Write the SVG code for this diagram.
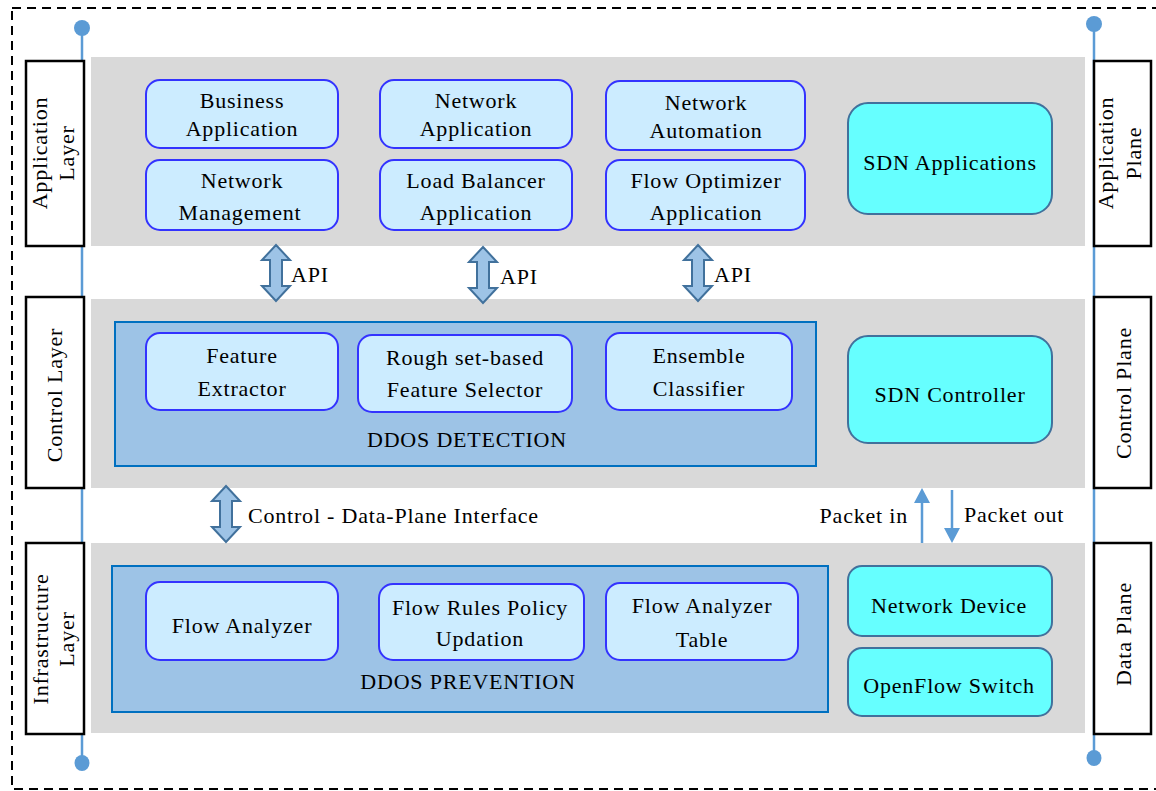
<svg xmlns="http://www.w3.org/2000/svg" width="1156" height="791" viewBox="0 0 1156 791">
<style>
svg text, svg tspan{font-family:"Liberation Serif",serif !important}
.t{font-family:"Liberation Serif",serif;font-size:22px;letter-spacing:0.8px;fill:#000;text-anchor:middle}
.band{fill:#D9D9D9}
.lbl{fill:#fff;stroke:#000;stroke-width:2.5}
.n{fill:#CCECFF;stroke:#3333FF;stroke-width:2}
.cy{fill:#66FFFF;stroke:#41719C;stroke-width:2}
.grp{fill:#9DC3E6;stroke:#0070C0;stroke-width:2}
.dbl{fill:#9DC3E6;stroke:#41719C;stroke-width:2;stroke-linejoin:miter}
.vl{stroke:#5B9BD5;stroke-width:2.5;fill:none}
.dot{fill:#5B9BD5}
.pk{stroke:#5B9BD5;stroke-width:2.5;fill:none}
.ph{fill:#5B9BD5}
.l{text-anchor:start}
.r{text-anchor:end}
</style>
<defs>
<path id="dbl" d="M0,0 L14,15 L6,15 L6,41 L14,41 L0,56 L-14,41 L-6,41 L-6,15 L-14,15 Z"/>
</defs>
<rect x="12" y="8" width="1160" height="781" fill="none" stroke="#000" stroke-width="2" stroke-dasharray="9,6"/>
<g id="axes">
<line class="vl" x1="82" y1="28" x2="82" y2="763"/>
<circle class="dot" cx="82" cy="28" r="8"/>
<ellipse class="dot" cx="82" cy="763" rx="7.5" ry="8"/>
<line class="vl" x1="1094" y1="24" x2="1094" y2="758"/>
<circle class="dot" cx="1094" cy="24" r="8"/>
<ellipse class="dot" cx="1094" cy="758" rx="7.5" ry="8"/>
</g>
<g id="bands">
<rect class="band" x="91" y="57" width="994" height="189"/>
<rect class="band" x="91" y="299" width="994" height="189"/>
<rect class="band" x="91" y="543" width="994" height="190"/>
</g>
<g id="layer-labels">
<g id="lbl-app-layer"><rect class="lbl" x="26" y="61" width="58" height="185"/><text class="t" font-family="Liberation Serif" transform="translate(55,153) rotate(-90)"><tspan x="0" y="-8">Application</tspan><tspan x="0" y="19">Layer</tspan></text></g>
<g id="lbl-ctrl-layer"><rect class="lbl" x="26" y="297" width="58" height="191"/><text class="t" font-family="Liberation Serif" transform="translate(55,395) rotate(-90)" y="7">Control Layer</text></g>
<g id="lbl-infra-layer"><rect class="lbl" x="26" y="543" width="58" height="191"/><text class="t" font-family="Liberation Serif" transform="translate(55,639) rotate(-90)"><tspan x="0" y="-7">Infrastructure</tspan><tspan x="0" y="19">Layer</tspan></text></g>
<g id="lbl-app-plane"><rect class="lbl" x="1094" y="61" width="57" height="185"/><text class="t" font-family="Liberation Serif" transform="translate(1122,153) rotate(-90)"><tspan x="0" y="-9">Application</tspan><tspan x="0" y="19">Plane</tspan></text></g>
<g id="lbl-ctrl-plane"><rect class="lbl" x="1094" y="297" width="57" height="191"/><text class="t" font-family="Liberation Serif" transform="translate(1122,393) rotate(-90)" y="9">Control Plane</text></g>
<g id="lbl-data-plane"><rect class="lbl" x="1094" y="543" width="57" height="191"/><text class="t" font-family="Liberation Serif" transform="translate(1122,634) rotate(-90)" y="9">Data Plane</text></g>
</g>
<g id="business-app"><rect class="n" x="146" y="80" width="192" height="68" rx="14"/><text class="t" font-family="Liberation Serif" x="242" y="108">Business</text><text class="t" font-family="Liberation Serif" x="242" y="136">Application</text></g>
<g id="network-mgmt"><rect class="n" x="146" y="160" width="192" height="70" rx="14"/><text class="t" font-family="Liberation Serif" x="242" y="188">Network</text><text class="t" font-family="Liberation Serif" x="240" y="220">Management</text></g>
<g id="network-app"><rect class="n" x="380" y="80" width="192" height="68" rx="14"/><text class="t" font-family="Liberation Serif" x="476" y="108">Network</text><text class="t" font-family="Liberation Serif" x="476" y="136">Application</text></g>
<g id="load-balancer"><rect class="n" x="380" y="160" width="192" height="70" rx="14"/><text class="t" font-family="Liberation Serif" x="476" y="188">Load Balancer</text><text class="t" font-family="Liberation Serif" x="476" y="220">Application</text></g>
<g id="network-automation"><rect class="n" x="606" y="81" width="199" height="69" rx="14"/><text class="t" font-family="Liberation Serif" x="706" y="110">Network</text><text class="t" font-family="Liberation Serif" x="706" y="138">Automation</text></g>
<g id="flow-optimizer"><rect class="n" x="606" y="160" width="199" height="70" rx="14"/><text class="t" font-family="Liberation Serif" x="706" y="188">Flow Optimizer</text><text class="t" font-family="Liberation Serif" x="706" y="220">Application</text></g>
<g id="sdn-apps"><rect class="cy" x="848" y="103" width="204" height="111" rx="20"/><text class="t" font-family="Liberation Serif" x="950" y="170">SDN Applications</text></g>
<g id="ddos-detection"><rect class="grp" x="115" y="322" width="701" height="144"/><text class="t" font-family="Liberation Serif" x="467" y="447">DDOS DETECTION</text></g>
<g id="feature-extractor"><rect class="n" x="146" y="333" width="192" height="77" rx="14"/><text class="t" font-family="Liberation Serif" x="242" y="363">Feature</text><text class="t" font-family="Liberation Serif" x="242" y="396">Extractor</text></g>
<g id="rough-set"><rect class="n" x="358" y="335" width="214" height="77" rx="14"/><text class="t" font-family="Liberation Serif" x="465" y="365">Rough set-based</text><text class="t" font-family="Liberation Serif" x="465" y="397">Feature Selector</text></g>
<g id="ensemble"><rect class="n" x="606" y="333" width="186" height="77" rx="14"/><text class="t" font-family="Liberation Serif" x="699" y="363">Ensemble</text><text class="t" font-family="Liberation Serif" x="699" y="396">Classifier</text></g>
<g id="sdn-controller"><rect class="cy" x="848" y="336" width="204" height="107" rx="20"/><text class="t" font-family="Liberation Serif" x="950" y="402">SDN Controller</text></g>
<g id="ddos-prevention"><rect class="grp" x="112" y="566" width="716" height="146"/><text class="t" font-family="Liberation Serif" x="468" y="689">DDOS PREVENTION</text></g>
<g id="flow-analyzer"><rect class="n" x="146" y="582" width="192" height="78" rx="14"/><text class="t" font-family="Liberation Serif" x="242" y="633">Flow Analyzer</text></g>
<g id="flow-rules"><rect class="n" x="379" y="584" width="205" height="76" rx="14"/><text class="t" font-family="Liberation Serif" x="480" y="615">Flow Rules Policy</text><text class="t" font-family="Liberation Serif" x="480" y="646">Updation</text></g>
<g id="flow-analyzer-table"><rect class="n" x="606" y="583" width="192" height="77" rx="14"/><text class="t" font-family="Liberation Serif" x="702" y="613">Flow Analyzer</text><text class="t" font-family="Liberation Serif" x="702" y="647">Table</text></g>
<g id="network-device"><rect class="cy" x="848" y="566" width="204" height="70" rx="14"/><text class="t" font-family="Liberation Serif" x="949" y="613">Network Device</text></g>
<g id="openflow-switch"><rect class="cy" x="848" y="648" width="204" height="68" rx="14"/><text class="t" font-family="Liberation Serif" x="949" y="693">OpenFlow Switch</text></g>
<g id="connectors">
<use href="#dbl" class="dbl" x="276" y="245"/>
<use href="#dbl" class="dbl" x="483" y="247"/>
<use href="#dbl" class="dbl" x="698" y="245"/>
<use href="#dbl" class="dbl" x="226" y="486"/>
<line class="pk" x1="922" y1="543" x2="922" y2="500"/>
<path class="ph" d="M922,488 L930,503 L914,503 Z"/>
<line class="pk" x1="952" y1="490" x2="952" y2="530"/>
<path class="ph" d="M952,543 L960,528 L944,528 Z"/>
<text class="t l" font-family="Liberation Serif" x="291" y="282">API</text>
<text class="t l" font-family="Liberation Serif" x="500" y="284">API</text>
<text class="t l" font-family="Liberation Serif" x="714" y="282">API</text>
<text class="t l" font-family="Liberation Serif" x="248" y="523">Control - Data-Plane Interface</text>
<text class="t r" font-family="Liberation Serif" x="908" y="523">Packet in</text>
<text class="t l" font-family="Liberation Serif" x="964" y="522">Packet out</text>
</g>
</svg>
